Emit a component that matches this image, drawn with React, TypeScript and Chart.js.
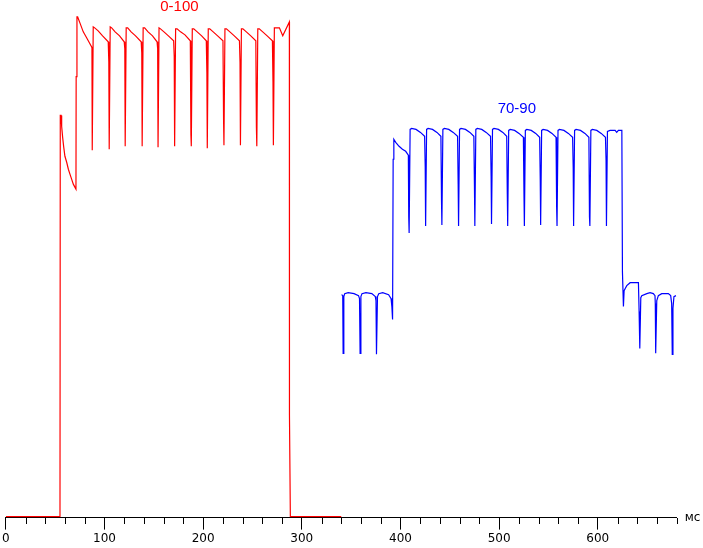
import React, { useEffect, useRef } from 'react';
import { Chart, registerables } from 'chart.js';

Chart.register(...registerables);

// x axis (milliseconds)
const xMin = 0;
const xMax = 680;
const xMinorStep = 20;
const xMajorStep = 100;
const axisUnit = 'мс';

// series names and where their captions sit (x in ms, y in level units)
const seriesNames = ['0-100', '70-90'];
const seriesColors = ['#ff0000', '#0000ff'];
const captionX = [176, 518];
const captionY = [512, 410];

// level scale (arbitrary units)
const yMin = -1;
const yMax = 519;

// transition 0 -> 100 : [time ms, level]
const redPoints: [number, number][] = [
  [0, 0], [54.9, 0], [55.2, 403], [56.0, 403], [56.6, 392], [57.6, 381], [58.6, 372], [59.9, 362],
  [61.7, 356], [63.4, 349], [65.0, 344], [66.7, 339], [68.4, 334], [70.0, 331], [71.1, 329],
  [71.3, 442], [72.1, 502], [72.8, 502], [75.1, 496], [78.5, 487], [81.9, 481], [86.9, 472],
  [87.3, 471], [87.6, 368],
  [88.6, 492], [90.1, 491], [93.6, 488], [98.1, 483], [103.8, 477], [104.4, 457], [104.8, 369],
  [105.8, 492], [107.3, 491], [110.8, 487], [115.3, 483], [120.0, 477], [120.6, 470], [121.0, 372],
  [122.0, 491], [123.5, 491], [127.0, 487], [131.5, 483], [137.2, 477], [137.8, 466], [138.2, 372],
  [139.2, 491], [140.7, 491], [144.2, 487], [148.7, 483], [153.3, 477], [153.9, 470], [154.3, 371],
  [155.3, 491], [156.8, 490], [160.3, 487], [164.8, 483], [170.1, 478], [170.7, 462], [171.1, 372],
  [172.1, 490], [173.6, 490], [177.1, 487], [181.6, 484], [187.0, 478], [187.6, 384], [188.0, 372],
  [189.0, 490], [190.5, 490], [194.0, 487], [198.5, 483], [203.2, 478], [203.8, 446], [204.2, 370],
  [205.2, 490], [206.7, 490], [210.2, 487], [214.7, 483], [220.1, 478], [220.7, 399], [221.1, 373],
  [222.1, 490], [223.6, 490], [227.1, 487], [231.6, 483], [236.8, 478], [237.4, 456], [237.8, 373],
  [238.8, 490], [240.3, 490], [243.8, 487], [248.3, 483], [253.4, 478], [254.0, 391], [254.4, 372],
  [255.4, 490], [256.9, 490], [260.4, 487], [264.9, 483], [270.2, 478], [270.8, 437], [271.2, 373],
  [272.2, 491], [277.3, 491], [280.7, 483], [287.4, 497], [287.5, 102], [288.4, 0], [340, 0],
];

// transition 70 -> 90 : [time ms, level]
const bluePoints: [number, number][] = [
  [340.3, 223], [341.5, 222], [341.9, 164], [342.6, 221], [343.5, 224], [347, 225], [353, 224],
  [357.5, 222], [358.5, 219], [359.1, 164], [359.9, 221], [361, 224], [365, 225], [371, 224],
  [374.5, 221], [375.2, 217], [375.7, 163], [376.7, 221], [378, 224], [382, 225], [388, 223],
  [390.5, 219], [391.3, 211], [392.0, 198], [392.6, 359], [393.3, 379], [395.2, 376], [398.6, 372],
  [402.0, 369], [405.3, 367], [408.0, 363], [408.4, 301], [408.8, 285],
  [409.8, 389], [411.3, 390], [415.8, 389], [420.3, 386], [424.5, 382], [425.1, 351], [425.5, 292],
  [426.5, 389], [428.0, 390], [432.5, 389], [437.0, 386], [441.0, 382], [441.6, 318], [442.0, 293],
  [443.0, 389], [444.5, 390], [449.0, 389], [453.5, 386], [457.9, 382], [458.5, 334], [458.9, 292],
  [459.9, 389], [461.4, 390], [465.9, 389], [470.4, 386], [474.4, 382], [475.0, 332], [475.4, 292],
  [476.4, 389], [477.9, 390], [482.4, 389], [486.9, 386], [491.3, 382], [491.9, 342], [492.3, 294],
  [493.3, 389], [494.8, 390], [499.3, 389], [503.8, 386], [507.7, 382], [508.3, 324], [508.7, 292],
  [509.7, 388], [511.2, 389], [515.7, 388], [520.2, 385], [524.6, 381], [525.2, 324], [525.6, 292],
  [526.6, 388], [528.1, 389], [532.6, 388], [537.1, 385], [541.1, 381], [541.7, 338], [542.1, 293],
  [543.1, 388], [544.6, 389], [549.1, 388], [553.6, 385], [557.7, 381], [558.3, 311], [558.7, 292],
  [559.7, 388], [561.2, 389], [565.7, 388], [570.2, 385], [574.5, 381], [575.1, 350], [575.5, 292],
  [576.5, 388], [578.0, 389], [582.5, 388], [587.0, 385], [591.0, 381], [591.6, 301], [592.0, 292],
  [593.0, 388], [594.5, 389], [599.0, 388], [603.5, 385], [607.8, 381], [608.4, 358], [608.8, 292],
  [609.8, 387], [612.5, 388], [617.6, 388], [619.2, 386], [620.9, 388], [624.4, 388], [625.0, 246],
  [626.0, 211], [626.7, 227], [627.7, 229], [629.4, 232], [632.8, 235], [641.2, 235], [641.9, 206],
  [642.6, 169], [643.6, 220], [644.6, 222], [649.7, 224], [653.0, 225], [656.3, 224], [658.0, 222],
  [658.3, 214], [658.7, 164], [659.8, 217], [661.4, 222], [664.8, 224], [671.5, 224], [673.9, 222],
  [674.9, 214], [675.5, 163], [676.2, 209], [677.2, 221], [679.3, 222],
];

const FONT = '"DejaVu Sans", sans-serif';

const isMajor = (v: number) => Math.abs(v / xMajorStep - Math.round(v / xMajorStep)) < 1e-6;

const decorPlugin = {
  id: 'decor',
  afterDraw(chart: any) {
    const { ctx, chartArea, scales } = chart;
    const x = scales.x;
    const y = scales.y;
    ctx.save();
    // minor ticks
    ctx.strokeStyle = '#000';
    ctx.lineWidth = 1;
    ctx.beginPath();
    const by = Math.round(chartArea.bottom);
    x.ticks.forEach((t: any) => {
      if (!isMajor(t.value)) {
        const px = Math.round(x.getPixelForValue(t.value)) + 0.5;
        ctx.moveTo(px, by);
        ctx.lineTo(px, by + 6);
      }
    });
    ctx.stroke();
    // unit label
    ctx.fillStyle = '#000';
    ctx.font = '12px ' + FONT;
    ctx.textAlign = 'left';
    ctx.textBaseline = 'middle';
    ctx.fillText(axisUnit, chartArea.right + 8, by);
    // series captions
    ctx.font = '15px "Liberation Sans", Arial, sans-serif';
    ctx.textAlign = 'center';
    seriesNames.forEach((name, i) => {
      ctx.fillStyle = seriesColors[i];
      ctx.fillText(name, x.getPixelForValue(captionX[i]), y.getPixelForValue(captionY[i]));
    });
    ctx.restore();
  },
};

export default function App() {
  const ref = useRef<HTMLCanvasElement | null>(null);
  useEffect(() => {
    if (!ref.current) return;
    const chart = new Chart(ref.current, {
      type: 'line',
      data: {
        datasets: [
          {
            label: seriesNames[0],
            data: redPoints.map(([x, y]) => ({ x, y })),
            borderColor: seriesColors[0],
            borderWidth: 1.2,
            pointRadius: 0,
            tension: 0,
            fill: false,
          },
          {
            label: seriesNames[1],
            data: bluePoints.map(([x, y]) => ({ x, y })),
            borderColor: seriesColors[1],
            borderWidth: 1.2,
            pointRadius: 0,
            tension: 0,
            fill: false,
          },
        ],
      },
      options: {
        animation: false,
        responsive: false,
        events: [],
        layout: { padding: { left: 0, right: 26.3, top: 0, bottom: 0 } },
        plugins: { legend: { display: false }, tooltip: { enabled: false }, title: { display: false } },
        scales: {
          x: {
            type: 'linear',
            min: xMin,
            max: xMax,
            border: { display: true, color: '#000', width: 1 },
            grid: {
              display: true,
              drawOnChartArea: false,
              drawTicks: true,
              tickLength: 12,
              tickWidth: 1,
              tickColor: (c: any) => (c.tick && isMajor(c.tick.value) ? '#000' : 'rgba(0,0,0,0)'),
            },
            ticks: {
              stepSize: xMinorStep,
              maxTicksLimit: 100,
              autoSkip: false,
              maxRotation: 0,
              minRotation: 0,
              padding: 2,
              color: '#000',
              font: { family: FONT, size: 12 },
              callback: (v: any) => (isMajor(Number(v)) ? String(v) : ''),
            },
          },
          y: { type: 'linear', display: false, min: yMin, max: yMax },
        },
      },
      plugins: [decorPlugin],
    });
    return () => chart.destroy();
  }, []);
  return (
    <div style={{ position: 'fixed', left: 0, top: 0, width: 703, height: 548, background: '#fff' }}>
      <canvas ref={ref} width={703} height={548} />
    </div>
  );
}
